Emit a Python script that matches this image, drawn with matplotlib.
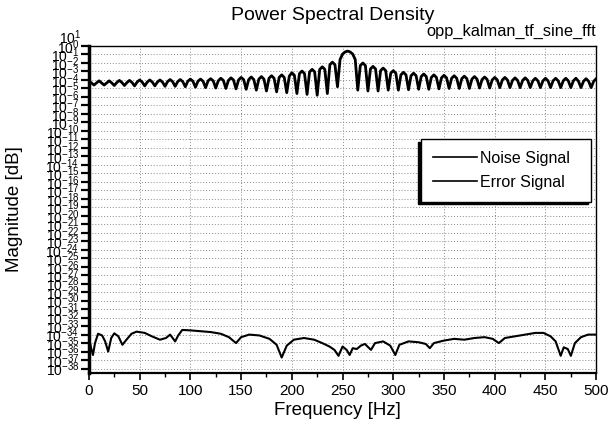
import numpy as np
import matplotlib
matplotlib.use("Agg")
import matplotlib.pyplot as plt
from matplotlib.ticker import LogLocator, LogFormatterSciNotation, MultipleLocator, NullLocator

plt.rcParams['font.family'] = ['Liberation Sans', 'DejaVu Sans']

# Noise signal: log10 magnitude sampled every 2.5 Hz from 0 to 500 Hz
noise_freq = np.arange(0, 500.1, 2.5)
noise_log = [
    -4.10, -4.35, -4.60, -4.35, -4.10, -4.35, -4.60, -4.35, -4.10, -4.35,
    -4.65, -4.30, -4.05, -4.30, -4.65, -4.30, -4.05, -4.30, -4.70, -4.25,
    -4.00, -4.25, -4.70, -4.25, -4.00, -4.25, -4.70, -4.25, -4.00, -4.25,
    -4.75, -4.20, -3.95, -4.20, -4.75, -4.20, -3.95, -4.20, -4.80, -4.15,
    -3.90, -4.15, -4.85, -4.15, -3.90, -4.15, -4.90, -4.10, -3.85, -4.10,
    -4.95, -4.10, -3.80, -4.05, -5.00, -4.05, -3.75, -4.00, -5.05, -4.00,
    -3.70, -3.95, -5.10, -3.95, -3.65, -3.95, -5.20, -3.90, -3.60, -3.90,
    -5.30, -3.80, -3.50, -3.80, -5.40, -3.70, -3.40, -3.70, -5.50, -3.55,
    -3.15, -3.45, -5.60, -3.25, -2.95, -3.25, -5.70, -3.05, -2.75, -3.05,
    -5.80, -2.75, -2.45, -2.75, -5.60, -2.20, -1.90, -2.20, -4.80, -1.60,
    -0.95, -0.70, -0.60, -0.70, -0.95, -1.60, -5.20, -2.30, -2.00, -2.30,
    -5.30, -2.70, -2.40, -2.70, -5.30, -2.90, -2.60, -2.90, -5.20, -3.20,
    -2.90, -3.20, -5.20, -3.40, -3.10, -3.40, -5.15, -3.50, -3.20, -3.50,
    -5.10, -3.60, -3.30, -3.60, -5.10, -3.70, -3.40, -3.70, -5.05, -3.75,
    -3.45, -3.75, -5.00, -3.80, -3.50, -3.80, -5.00, -3.85, -3.55, -3.85,
    -5.00, -3.90, -3.60, -3.90, -4.95, -3.95, -3.65, -3.95, -4.95, -4.00,
    -3.70, -4.00, -4.90, -4.00, -3.70, -4.00, -4.90, -4.05, -3.75, -4.05,
    -4.90, -4.05, -3.75, -4.05, -4.90, -4.10, -3.80, -4.10, -4.90, -4.10,
    -3.80, -4.10, -4.90, -4.10, -3.80, -4.10, -4.90, -4.10, -3.80, -4.10,
    -4.90, -4.10, -3.80, -4.15, -4.90, -4.15, -3.85, -4.15, -4.90, -4.15,
    -3.85,
]

# Error signal: log10 magnitude at irregular frequencies
error_freq = [
    0, 2, 4, 6, 9, 13, 16, 19, 22, 25, 29, 33, 37, 42, 47, 55, 62, 70, 76, 80,
    85, 88, 92, 100, 110, 120, 130, 138, 145, 150, 158, 168, 178, 185, 190, 195,
    202, 212, 222, 230, 237, 242, 246, 250, 254, 257, 260, 264, 268, 272, 278,
    282, 290, 297, 302, 306, 315, 325, 332, 336, 340, 350, 360, 370, 380, 390,
    398, 404, 410, 420, 430, 440, 448, 455, 460, 465, 468, 472, 475, 479, 485,
    492, 500,
]
error_log = [
    -34.3, -35.5, -36.4, -35.0, -33.9, -34.1, -34.8, -36.0, -34.4, -33.85,
    -34.2, -35.2, -34.6, -33.9, -33.65, -33.8, -34.2, -34.6, -34.4, -34.0,
    -34.8, -34.1, -33.45, -33.5, -33.6, -33.7, -33.9, -34.3, -35.0, -34.3,
    -34.0, -34.1, -34.5, -35.2, -36.7, -35.3, -34.6, -34.4, -34.6, -35.0,
    -35.4, -35.8, -36.5, -35.4, -35.8, -36.4, -35.6, -35.7, -35.3, -35.1,
    -35.8, -35.0, -34.8, -35.3, -36.4, -35.2, -34.8, -34.9, -35.1, -35.6,
    -35.0, -34.7, -34.5, -34.6, -34.4, -34.3, -34.5, -35.0, -34.4, -34.2,
    -34.0, -33.8, -33.8, -34.2, -34.8, -36.5, -35.5, -35.7, -36.5, -35.0,
    -34.3, -34.0, -34.0,
]

series_labels = ["Noise Signal", "Error Signal"]
x_ticks = [0, 50, 100, 150, 200, 250, 300, 350, 400, 450, 500]

fig = plt.figure(figsize=(6.09, 4.34), dpi=100)
ax = fig.add_axes([0.146, 0.141, 0.833, 0.753])

ax.plot(noise_freq, 10.0 ** np.array(noise_log), color="black", lw=2.0,
        label=series_labels[0])
ax.plot(error_freq, 10.0 ** np.array(error_log), color="black", lw=1.5,
        label=series_labels[1])

ax.set_yscale("log")
ax.set_xlim(0, 500)
ax.set_ylim(10 ** -38.5, 10 ** 0)

ax.yaxis.set_major_locator(LogLocator(base=10, numticks=60))
ax.yaxis.set_minor_locator(NullLocator())
ax.yaxis.set_major_formatter(LogFormatterSciNotation(base=10))
ax.set_xticks(x_ticks)
ax.xaxis.set_minor_locator(MultipleLocator(25))

ax.tick_params(axis="y", which="major", direction="out", length=6, width=1.6,
               labelsize=10, pad=1)
ax.tick_params(axis="x", which="major", direction="out", length=5, width=1.2,
               labelsize=11, pad=3)
ax.tick_params(axis="x", which="minor", direction="out", length=3, width=1.0)

# decade label sitting just above the plotting area
ax.text(-0.014, 10 ** 1, r"$\mathdefault{10^{1}}$", transform=ax.get_yaxis_transform(),
        ha="right", va="center", fontsize=10, clip_on=False)

ax.grid(True, which="major", axis="both", linestyle=(0, (1, 2)), color="#888888",
        linewidth=0.7)

for side, w in (("left", 2.5), ("bottom", 1.6), ("top", 1.0), ("right", 1.0)):
    ax.spines[side].set_linewidth(w)
    ax.spines[side].set_color("black")

ax.set_xlabel("Frequency [Hz]", fontsize=13.5)
ax.xaxis.set_label_coords(0.49, -0.088)
ax.set_ylabel("Magnitude [dB]", fontsize=13.5)
ax.yaxis.set_label_coords(-0.13, 0.5)

fig.text(0.547, 0.965, "Power Spectral Density", ha="center", va="center",
         fontsize=14)
ax.text(1.0, 1.046, "opp_kalman_tf_sine_fft", transform=ax.transAxes,
        ha="right", va="center", fontsize=11.8)

leg = ax.legend(loc="upper left", bbox_to_anchor=(0.655, 0.52, 0.335, 0.196),
                mode="expand", fontsize=11.5,
                frameon=True, fancybox=False, edgecolor="black",
                handlelength=2.75, handletextpad=0.2, labelspacing=0.56,
                borderpad=0.75, borderaxespad=0.0,
                shadow={"ox": -2, "oy": -2, "color": "black", "alpha": 1.0})
leg.get_frame().set_linewidth(1.0)
for line in leg.get_lines():
    line.set_linewidth(1.2)

fig.savefig("out.png", dpi=100)
